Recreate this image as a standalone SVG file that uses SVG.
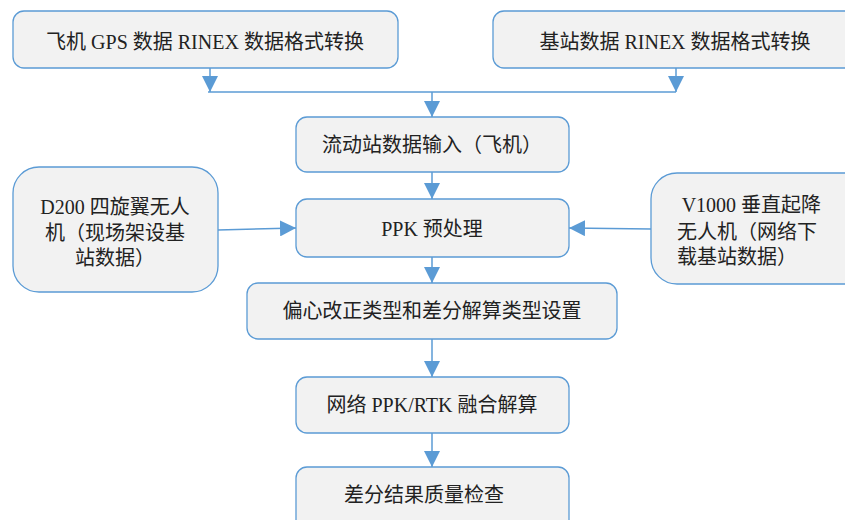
<svg xmlns="http://www.w3.org/2000/svg" width="845" height="520" viewBox="0 0 845 520">
<style>
.box{fill:#f2f2f2;stroke:#5b9bd5;stroke-width:1.3}
.t{font-family:"Liberation Serif","Noto Sans CJK SC",serif;font-size:20px;fill:#222}
.c{text-anchor:middle}
.ln{stroke:#5b9bd5;stroke-width:1.5;fill:none}
</style>
<defs>
<marker id="ah" markerUnits="userSpaceOnUse" markerWidth="16" markerHeight="16" viewBox="0 0 16 16" refX="16" refY="8" orient="auto">
<path d="M0,0 L16,8 L0,16 Z" fill="#5b9bd5"/>
</marker>
</defs>
<g id="connectors">
<line class="ln" x1="210" y1="68" x2="210" y2="92" marker-end="url(#ah)"/>
<line class="ln" x1="676" y1="68" x2="676" y2="92" marker-end="url(#ah)"/>
<line class="ln" x1="208" y1="92" x2="676" y2="92"/>
<line class="ln" x1="432" y1="92" x2="432" y2="117" marker-end="url(#ah)"/>
<line class="ln" x1="432" y1="172" x2="432" y2="199" marker-end="url(#ah)"/>
<line class="ln" x1="218" y1="230" x2="296" y2="228" marker-end="url(#ah)"/>
<line class="ln" x1="651" y1="229" x2="569" y2="228" marker-end="url(#ah)"/>
<line class="ln" x1="432" y1="257" x2="432" y2="283" marker-end="url(#ah)"/>
<line class="ln" x1="432" y1="339" x2="432" y2="377" marker-end="url(#ah)"/>
<line class="ln" x1="432" y1="433" x2="432" y2="467" marker-end="url(#ah)"/>
</g>
<g id="n1">
<rect class="box" x="13" y="11" width="385" height="57" rx="11"/>
<text class="t c" x="205" y="49">飞机 GPS 数据 RINEX 数据格式转换</text>
</g>
<g id="n2">
<rect class="box" x="493" y="11" width="370" height="57" rx="11"/>
<text class="t c" x="675" y="49">基站数据 RINEX 数据格式转换</text>
</g>
<g id="n3">
<rect class="box" x="296" y="117" width="273" height="55" rx="11"/>
<text class="t c" x="432" y="152">流动站数据输入（飞机）</text>
</g>
<g id="n4">
<rect class="box" x="296" y="199" width="273" height="58" rx="11"/>
<text class="t c" x="432" y="236">PPK 预处理</text>
</g>
<g id="n5">
<rect class="box" x="13" y="167" width="205" height="125" rx="26"/>
<text class="t c" x="115" y="214">D200 四旋翼无人</text>
<text class="t c" x="115" y="240">机（现场架设基</text>
<text class="t c" x="115" y="265">站数据）</text>
</g>
<g id="n6">
<rect class="box" x="651" y="173" width="220" height="111" rx="26"/>
<text class="t" x="677" y="212" xml:space="preserve"> V1000 垂直起降</text>
<text class="t" x="677" y="239">无人机（网络下</text>
<text class="t" x="677" y="264">载基站数据）</text>
</g>
<g id="n7">
<rect class="box" x="247" y="283" width="370" height="56" rx="11"/>
<text class="t c" x="432" y="318" textLength="299">偏心改正类型和差分解算类型设置</text>
</g>
<g id="n8">
<rect class="box" x="296" y="377" width="273" height="56" rx="11"/>
<text class="t c" x="432" y="412">网络 PPK/RTK 融合解算</text>
</g>
<g id="n9">
<rect class="box" x="296" y="467" width="273" height="70" rx="11"/>
<text class="t c" x="424" y="502">差分结果质量检查</text>
</g>
</svg>
